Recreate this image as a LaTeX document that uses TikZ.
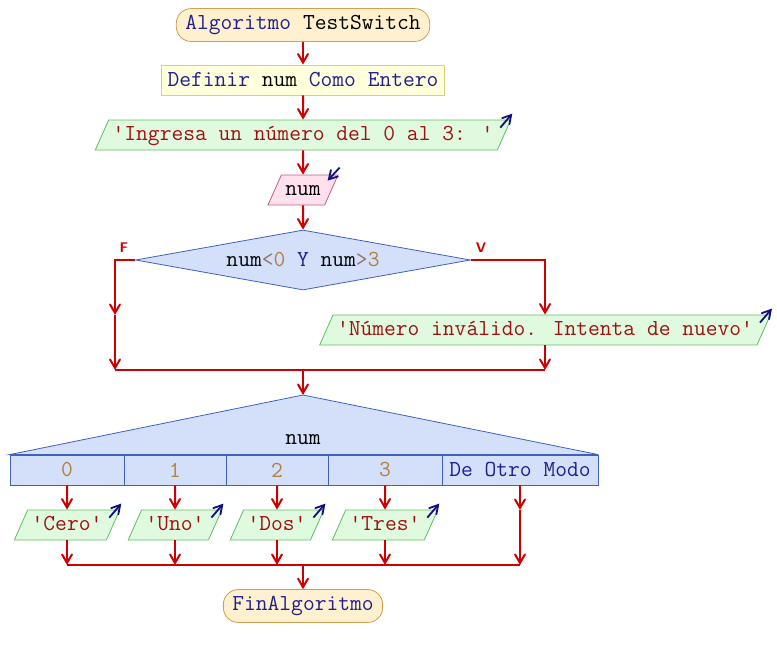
\documentclass[tikz,border=0pt]{standalone}
\usepackage{fontspec}
\usepackage{tikz}
\usetikzlibrary{shapes.geometric}
\usetikzlibrary{positioning}
\usetikzlibrary{arrows}

\definecolor{flowred}{HTML}{CC0000}
\definecolor{kw}{HTML}{202090}
\definecolor{str}{HTML}{A01010}
\definecolor{numc}{HTML}{B08040}
\definecolor{opc}{HTML}{907868}
\definecolor{iconc}{HTML}{101080}
\definecolor{termline}{HTML}{D0A050}
\definecolor{termfill}{HTML}{FFF0D0}
\definecolor{defline}{HTML}{D8D080}
\definecolor{deffill}{HTML}{FFFFDC}
\definecolor{outline}{HTML}{60C060}
\definecolor{outfill}{HTML}{E0FAE0}
\definecolor{inline}{HTML}{C06080}
\definecolor{infill}{HTML}{FFE0EE}
\definecolor{condline}{HTML}{4060C0}
\definecolor{condfill}{HTML}{D4E0FA}

\tikzset{
	flow/.style = {draw=flowred, line width=1pt, ->, >=angle 60},
	line/.style = {draw=flowred, line width=1pt},
	term/.style = {draw=termline, fill=termfill, rounded corners=7.5pt, minimum height=15pt, inner xsep=4.5pt},
	defbox/.style = {draw=defline, fill=deffill, minimum height=15pt, inner xsep=3pt},
	outbox/.style = {trapezium, trapezium left angle=66, trapezium right angle=114, draw=outline, fill=outfill, text height=7pt, text depth=2pt, inner xsep=2pt, inner ysep=3pt},
	inbox/.style = {outbox, draw=inline, fill=infill},
	cond/.style = {diamond, aspect=5.6, draw=condline, fill=condfill, minimum width=167.5pt, minimum height=30pt, inner sep=0pt},
	case/.style = {draw=condline, fill=condfill, minimum height=15pt, inner sep=0pt},
	icon/.style = {draw=iconc, line width=0.9pt, ->, >=angle 60},
	branchlabel/.style = {text=flowred, font=\sffamily\bfseries\fontsize{7pt}{8pt}\selectfont},
}

\begin{document}
\begin{tikzpicture}
	[x=0.5pt, y=-0.5pt, node distance={27.5pt}, font=\ttfamily\fontsize{11.43pt}{13pt}\selectfont]
	\useasboundingbox (0,0) rectangle (777,655);
	% main sequence
	\node[term] (inicio) at (303,25) {\textcolor{kw}{Algoritmo} TestSwitch};
	\node[defbox] (def) [below of = inicio] {\textcolor{kw}{Definir} num \textcolor{kw}{Como Entero}};
	\node[outbox] (pide) [below of = def] {\textcolor{str}{'Ingresa un número del 0 al 3: '}};
	\node[inbox] (lee) [below of = pide] {num};
	\node[cond] (si) at (303,260) {num\textcolor{opc}{<}\textcolor{numc}{0} \textcolor{kw}{Y} num\textcolor{opc}{>}\textcolor{numc}{3}};
	\node[outbox] (aviso) at (545,330) {\textcolor{str}{'Número inválido. Intenta de nuevo'}};
	\node[branchlabel] (f) at (124,248) {F};
	\node[branchlabel] (v) at (481,248) {V};
	\coordinate (fl) at (115,315);
	\coordinate (jl) at (115,370);
	\coordinate (jr) at (545,370);
	\coordinate (jm) at (303,370);
	\coordinate (apex) at (303,395);

	% segun
	\node[case, minimum width=57pt] (c0) at (67,470) {\textcolor{numc}{0}};
	\node[case, minimum width=51pt] (c1) at (175,470) {\textcolor{numc}{1}};
	\node[case, minimum width=51pt] (c2) at (277,470) {\textcolor{numc}{2}};
	\node[case, minimum width=57pt] (c3) at (385,470) {\textcolor{numc}{3}};
	\node[case, minimum width=78pt] (c4) at (520,470) {\textcolor{kw}{De Otro Modo}};
	\filldraw[draw=condline, fill=condfill] (c0.north west) -- (apex) -- (c4.north east) -- cycle;
	\node (sel) at (303,440) {num};

	\node[outbox] (cero) at (67,525) {\textcolor{str}{'Cero'}};
	\node[outbox] (uno) at (175,525) {\textcolor{str}{'Uno'}};
	\node[outbox] (dos) at (277,525) {\textcolor{str}{'Dos'}};
	\node[outbox] (tres) at (385,525) {\textcolor{str}{'Tres'}};
	\coordinate (d1) at (520,510);
	\coordinate (b0) at (67,565);
	\coordinate (b1) at (175,565);
	\coordinate (b2) at (277,565);
	\coordinate (b3) at (385,565);
	\coordinate (b4) at (520,565);
	\coordinate (bm) at (303,565);
	\node[term] (fin) at (303,606) {\textcolor{kw}{FinAlgoritmo}};

	% connectors
	\draw[flow] (inicio) -- (def);
	\draw[flow] (def) -- (pide);
	\draw[flow] (pide) -- (lee);
	\draw[flow] (lee) -- (si);
	\draw[flow] (si.west) -| (fl);
	\draw[flow] (fl) -- (jl);
	\draw[flow] (si.east) -| (aviso.north);
	\draw[flow] (aviso) -- (jr);
	\draw[line] (jl) -- (jr);
	\draw[flow] (jm) -- (apex);
	\draw[flow] (c0) -- (cero);
	\draw[flow] (c1) -- (uno);
	\draw[flow] (c2) -- (dos);
	\draw[flow] (c3) -- (tres);
	\draw[flow] (c4) -- (d1);
	\draw[flow] (d1) -- (b4);
	\draw[flow] (cero) -- (b0);
	\draw[flow] (uno) -- (b1);
	\draw[flow] (dos) -- (b2);
	\draw[flow] (tres) -- (b3);
	\draw[line] (b0) -- (b4);
	\draw[flow] (bm) -- (fin);

	% io marks
	\draw[icon] ([shift={(-11,8)}]pide.top right corner) -- ++(12,-14);
	\draw[icon] ([shift={(-11,8)}]aviso.top right corner) -- ++(12,-14);
	\draw[icon] ([shift={(-11,8)}]cero.top right corner) -- ++(12,-14);
	\draw[icon] ([shift={(-11,8)}]uno.top right corner) -- ++(12,-14);
	\draw[icon] ([shift={(-11,8)}]dos.top right corner) -- ++(12,-14);
	\draw[icon] ([shift={(-11,8)}]tres.top right corner) -- ++(12,-14);
	\draw[icon] ([shift={(1,-7)}]lee.top right corner) -- ++(-12,13);
\end{tikzpicture}
\end{document}
